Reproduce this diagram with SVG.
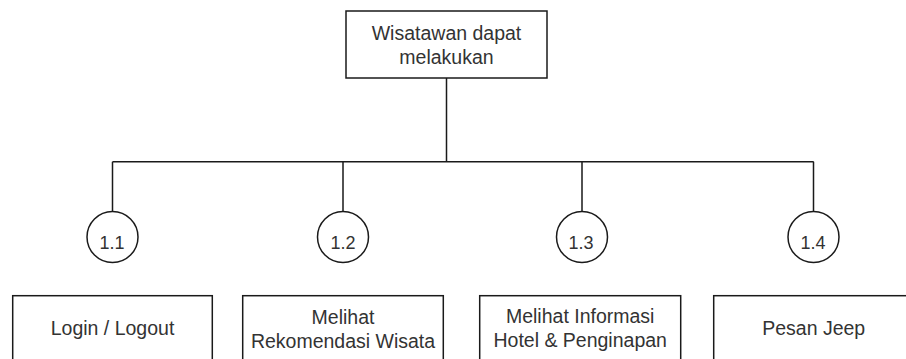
<svg xmlns="http://www.w3.org/2000/svg" width="906" height="359" viewBox="0 0 906 359">
<style>
.box{fill:#fff;stroke:#1a1a1a;stroke-width:1.5}
.circ{fill:#fff;stroke:#1a1a1a;stroke-width:1.5}
.line{fill:none;stroke:#1a1a1a;stroke-width:1.5}
text{font-family:"Liberation Sans",Arial,sans-serif;fill:#333;text-anchor:middle}
.t{font-size:19.5px}
.n{font-size:18px}
</style>
<rect width="906" height="359" fill="#fff"/>
<g id="connectors">
<path class="line" d="M446.5 78V161.7M112.5 161.7H813.7M112.5 161.7V211.5M343 161.7V211.5M582 161.7V211.5M813.5 161.7V211.5"/>
</g>
<g id="root">
<rect class="box" x="346" y="11" width="201" height="67"/>
<text class="t" x="446.5" y="40">Wisatawan dapat</text>
<text class="t" x="446.5" y="63.5">melakukan</text>
</g>
<g id="c11"><circle class="circ" cx="112.5" cy="237" r="25.5"/><text class="n" x="112" y="249">1.1</text></g>
<g id="c12"><circle class="circ" cx="343" cy="237" r="25.5"/><text class="n" x="343" y="249">1.2</text></g>
<g id="c13"><circle class="circ" cx="582" cy="237" r="25.5"/><text class="n" x="581" y="249">1.3</text></g>
<g id="c14"><circle class="circ" cx="813.5" cy="237" r="25.5"/><text class="n" x="813" y="249">1.4</text></g>
<g id="b11"><rect class="box" x="12.7" y="295.7" width="199.6" height="80"/><text class="t" x="112.5" y="335">Login / Logout</text></g>
<g id="b12"><rect class="box" x="242.7" y="295.7" width="200.6" height="80"/><text class="t" x="343" y="324">Melihat</text><text class="t" x="343" y="347.7">Rekomendasi Wisata</text></g>
<g id="b13"><rect class="box" x="479.7" y="295.7" width="201" height="80"/><text class="t" x="580.2" y="323.3">Melihat Informasi</text><text class="t" x="580.2" y="347.3">Hotel &amp; Penginapan</text></g>
<g id="b14"><rect class="box" x="713.7" y="295.7" width="200" height="80"/><text class="t" x="813.7" y="335">Pesan Jeep</text></g>
</svg>
